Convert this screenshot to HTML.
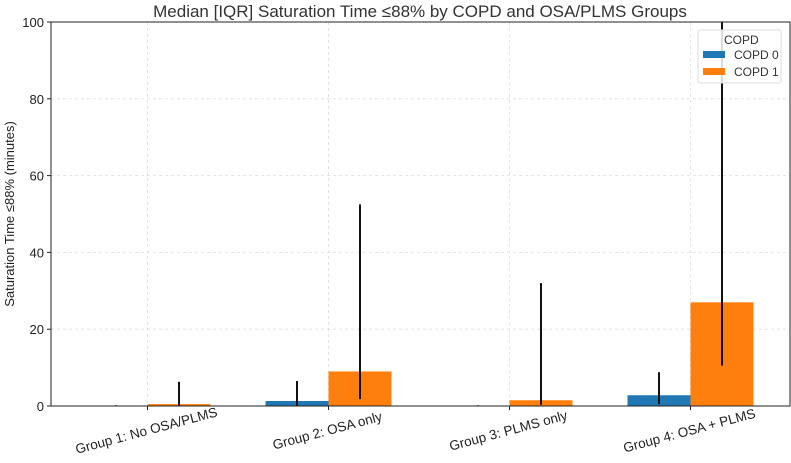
<!DOCTYPE html>
<html><head><meta charset="utf-8">
<style>
body{margin:0;background:#fff;font-family:"Liberation Sans","DejaVu Sans",sans-serif;}
svg{display:block}
</style></head>
<body>
<svg id="chart" width="791" height="463" viewBox="0 0 791 463">
<text x="420" y="17" text-anchor="middle" font-size="17" fill="#333">Median [IQR] Saturation Time ≤88% by COPD and OSA/PLMS Groups</text>
<g id="grid"></g>
<g id="bars"></g>
<g id="axes"></g>
<text transform="translate(14,214) rotate(-90)" text-anchor="middle" font-size="13" fill="#222">Saturation Time ≤88% (minutes)</text>
<g>
<rect x="698" y="30" width="83" height="53" fill="#fff" fill-opacity="0.85" stroke="#ddd" rx="2"/>
<text x="724" y="44" font-size="12" fill="#333">COPD</text>
<rect x="703" y="51" width="22" height="7" fill="#1f77b4"/>
<text x="734" y="59" font-size="12" fill="#333">COPD 0</text>
<rect x="703" y="68" width="22" height="7" fill="#ff7f0e"/>
<text x="734" y="76" font-size="12" fill="#333">COPD 1</text>
</g>
</svg>
<script>
const categories=["Group 1: No OSA/PLMS","Group 2: OSA only","Group 3: PLMS only","Group 4: OSA + PLMS"];
const copd0Median=[0,1.3,0,2.8];
const copd0Low=[0,0,0,0.5];
const copd0High=[0.2,6.5,0.2,8.8];
const copd1Median=[0.5,9,1.5,27];
const copd1Low=[0,1.8,0.3,10.5];
const copd1High=[6.3,52.5,32,100];
const yTicks=[0,20,40,60,80,100];
const NS="http://www.w3.org/2000/svg";
const L=51,R=790,T=22,B=406;
const y=v=>B-(v/100)*(B-T);
const xc=i=>147.5+i*181;
const bw=63;
function mk(tag,attrs,parent){const e=document.createElementNS(NS,tag);for(const k in attrs)e.setAttribute(k,attrs[k]);parent.appendChild(e);return e;}
const grid=document.getElementById('grid'),bars=document.getElementById('bars'),axes=document.getElementById('axes');
yTicks.forEach(t=>{
 const g=mk('line',{x1:L,x2:R,y1:y(t),y2:y(t),stroke:'#ddd','stroke-dasharray':'3,3','stroke-width':0.8},grid);
 
 
 const tk=mk('line',{x1:L-4,x2:L,y1:y(t),y2:y(t),stroke:'#222'},axes);
 
 
 const tx=mk('text',{x:L-7,y:y(t)+5,'text-anchor':'end','font-size':13,fill:'#222'},axes);
 tx.textContent=t;
 
 
});
categories.forEach((c,i)=>{
 const g=mk('line',{x1:xc(i),x2:xc(i),y1:T,y2:B,stroke:'#ddd','stroke-dasharray':'3,3','stroke-width':0.8},grid);
 
 
 [[copd0Median,copd0Low,copd0High,'#1f77b4',-bw,'copd0'],[copd1Median,copd1Low,copd1High,'#ff7f0e',0,'copd1']].forEach(s=>{
  const x0=xc(i)+s[4];
  const r=mk('rect',{x:x0,y:y(s[0][i]),width:bw,height:Math.max(0,B-y(s[0][i])),fill:s[3]},bars);
  
  
  const e=mk('line',{x1:x0+bw/2,x2:x0+bw/2,y1:y(s[1][i]),y2:y(s[2][i]),stroke:'#111','stroke-width':2},bars);
  
  
 });
 const tx=mk('text',{x:0,y:0,'text-anchor':'middle','font-size':13.5,fill:'#222',transform:`translate(${xc(i)},${435}) rotate(-15)`},axes);
 tx.textContent=c;
 
 
 const tk=mk('line',{x1:xc(i),x2:xc(i),y1:B,y2:B+4,stroke:'#222'},axes);
 
 
});
const fr=mk('rect',{x:L,y:T,width:R-L,height:B-T,fill:'none',stroke:'#222','stroke-width':1},axes);


</script>
</body></html>
